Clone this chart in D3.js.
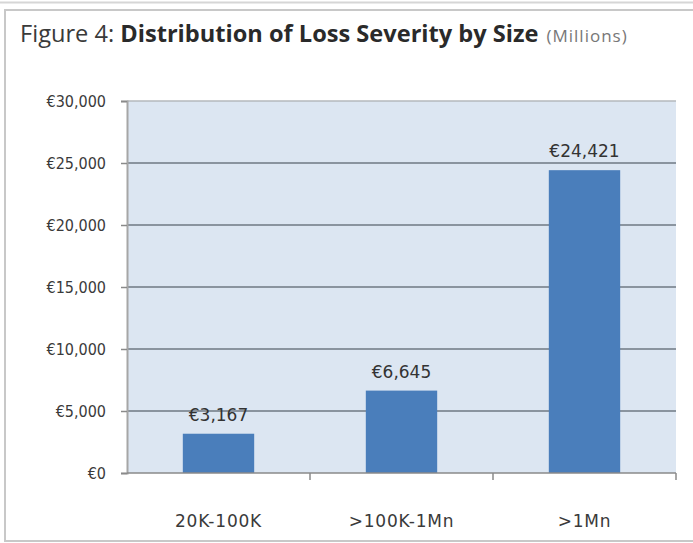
<!DOCTYPE html>
<html>
<head>
<meta charset="utf-8">
<script src="https://cdn.jsdelivr.net/npm/d3@7"></script>
<style>
  html, body { margin: 0; padding: 0; background: #ffffff; }
  svg { display: block; }
</style>
</head>
<body>
<svg id="chart" width="693" height="543"></svg>
<script>
// Loss severity by size band, in millions of euros
const categories = ["20K-100K", ">100K-1Mn", ">1Mn"];
const values = [3167, 6645, 24421];
const yTicks = [0, 5000, 10000, 15000, 20000, 25000, 30000];

const W = 693, H = 543;
const margin = { left: 127, right: 17, top: 101, bottom: 70 };
const svg = d3.select("#chart");
const font = "'DejaVu Sans', Verdana, sans-serif";
const condensed = "'DejaVu Sans Condensed', 'DejaVu Sans', sans-serif";

// outer frame
svg.append("line").attr("x1", 0).attr("x2", W).attr("y1", 2.5).attr("y2", 2.5)
  .attr("stroke", "#d6d6d6").attr("stroke-width", 2);
svg.append("rect").attr("x", 5).attr("y", 10).attr("width", W + 10).attr("height", 531)
  .attr("fill", "#ffffff").attr("stroke", "#c8c8c8").attr("stroke-width", 2);

// title
const title = svg.append("text").attr("x", 20).attr("y", 42)
  .attr("font-family", "'Open Sans', 'DejaVu Sans', sans-serif").attr("font-size", 23.6).attr("fill", "#3a3a3a");
title.append("tspan").text("Figure 4: ");
title.append("tspan").attr("font-weight", "bold").attr("fill", "#2a2a2a").text("Distribution of Loss Severity by Size");
title.append("tspan").attr("font-size", 17).attr("letter-spacing", 1).attr("fill", "#777").attr("dx", 8).text("(Millions)");

const x = d3.scaleBand().domain(categories)
  .range([margin.left, W - margin.right]).paddingInner(0.61).paddingOuter(0.305);
const y = d3.scaleLinear().domain([0, 30000]).range([H - margin.bottom, margin.top]);

// plot area
svg.append("rect").attr("x", margin.left).attr("y", margin.top)
  .attr("width", W - margin.right - margin.left).attr("height", y(0) - margin.top)
  .attr("fill", "#dce6f2");

// gridlines
svg.append("g").selectAll("line").data(yTicks.filter(d => d > 0)).join("line")
  .attr("x1", margin.left).attr("x2", W - margin.right)
  .attr("y1", d => y(d)).attr("y2", d => y(d))
  .attr("stroke", d => d === 30000 ? "#b4b8bd" : "#6f7883").attr("stroke-width", 1.5);

// bars
svg.append("g").selectAll("rect").data(values).join("rect")
  .attr("x", (d, i) => x(categories[i])).attr("width", x.bandwidth())
  .attr("y", d => y(d)).attr("height", d => y(0) - y(d))
  .attr("fill", "#4a7ebb");

// value labels
svg.append("g").selectAll("text").data(values).join("text")
  .attr("x", (d, i) => x(categories[i]) + x.bandwidth() / 2)
  .attr("y", d => y(d) - 13)
  .attr("text-anchor", "middle")
  .attr("font-family", font).attr("font-size", 17).attr("fill", "#333")
  .text(d => "€" + d3.format(",")(d));

// y axis
const yAxis = d3.axisLeft(y).tickValues(yTicks).tickSize(6).tickPadding(15)
  .tickFormat(d => "€" + d3.format(",")(d));
const gy = svg.append("g").attr("transform", `translate(${margin.left},0)`).call(yAxis);
gy.select(".domain").attr("stroke", "#a6a6a6").attr("stroke-width", 2);
gy.selectAll(".tick line").attr("stroke", "#8a8a8a").attr("stroke-width", 1.5);
gy.selectAll(".tick text").attr("font-family", condensed).attr("font-size", 16).attr("fill", "#3a3a3a");

// x axis with ticks between categories
const gx = svg.append("g").attr("transform", `translate(0,${y(0)})`);
gx.append("line").attr("x1", margin.left).attr("x2", W - margin.right)
  .attr("stroke", "#8a8a8a").attr("stroke-width", 1.5);
const step = x.step();
const bounds = categories.map((c, i) => x(c) - x.paddingInner() * step / 2 + step);
gx.selectAll(".sep").data(bounds).join("line").attr("class", "sep")
  .attr("x1", d => d).attr("x2", d => d).attr("y1", 0).attr("y2", 7)
  .attr("stroke", "#8a8a8a").attr("stroke-width", 1.5);
gx.selectAll(".lbl").data(categories).join("text").attr("class", "lbl")
  .attr("x", d => x(d) + x.bandwidth() / 2).attr("y", 54)
  .attr("text-anchor", "middle")
  .attr("font-family", font).attr("font-size", 17).attr("letter-spacing", 0.8).attr("fill", "#3a3a3a")
  .text(d => d);
</script>
</body>
</html>
